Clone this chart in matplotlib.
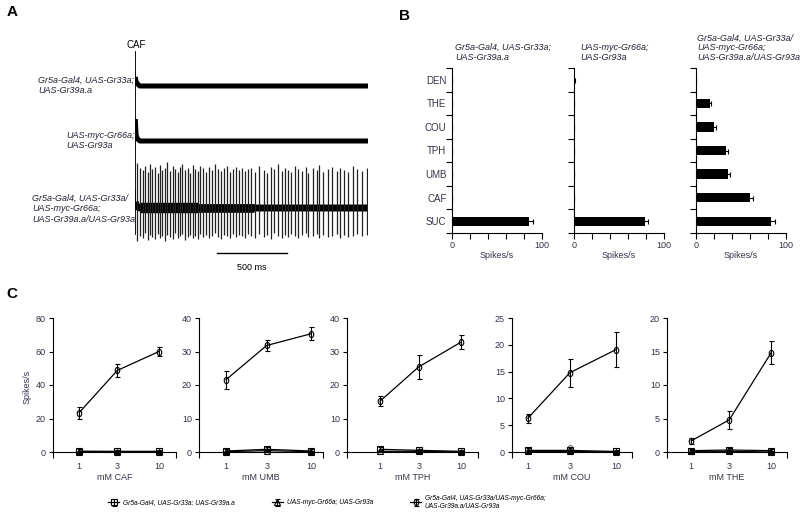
import numpy as np
import matplotlib.pyplot as plt
from matplotlib.markers import MarkerStyle
from matplotlib.transforms import Affine2D
from matplotlib.ticker import FixedLocator, NullFormatter

plt.rcParams['font.family'] = ['Liberation Sans', 'DejaVu Sans']

W, H = 800, 522


def box(l, t, r, b):
    # pixel box -> figure fraction
    return [l / W, 1 - b / H, (r - l) / W, (b - t) / H]


# ---------------- data ----------------
genotypes = ["Gr5a-Gal4, UAS-Gr33a;\nUAS-Gr39a.a",
             "UAS-myc-Gr66a;\nUAS-Gr93a",
             "Gr5a-Gal4, UAS-Gr33a/\nUAS-myc-Gr66a;\nUAS-Gr39a.a/UAS-Gr93a"]

# panel A traces (ms, arbitrary amplitude)
trace_len = 1665
art_up = [34, 47, 59]
art_down = [8, 8, 26]
decay_t = [2, 8, 18, 35]
decay_y = [[9, 4, 2, 0], [22, 6, 2, 0], [6, 3, 1, 0]]
spike_t = [14, 36, 54, 71, 93, 107, 125, 143, 161, 179, 196, 214, 229, 250,
           268, 286, 304, 321, 339, 357, 379, 393, 414, 432, 450, 468, 486,
           507, 528, 550, 571, 593, 614, 636, 657, 679, 700, 721, 743, 764,
           786, 807, 829, 857, 886, 921, 943, 971, 993, 1021, 1050, 1071,
           1093, 1114, 1143, 1164, 1193, 1221, 1236, 1271, 1300, 1314, 1343,
           1379, 1407, 1443, 1464, 1493, 1521, 1557, 1586, 1621, 1657]
spike_up = [45, 40, 38, 42, 36, 44, 39, 41, 35, 43, 38, 40, 46, 37, 42, 39,
            36, 41, 44, 38, 40, 35, 43, 39, 37, 42, 40, 36, 41, 38, 44, 39,
            37, 40, 42, 36, 39, 41, 38, 40, 37, 39,
            40, 36, 42, 38, 35, 41, 39, 44, 37, 40, 38, 36, 42, 39, 37, 41,
            35, 40, 38, 43, 36, 39, 41, 37, 40, 38, 36, 42, 39, 37, 40]
spike_down = [33, 28, 30, 25, 32, 27, 29, 31, 26, 30, 28, 33, 27, 29, 31, 25,
              30, 28, 26, 32, 29, 27, 30, 28, 31, 26, 29, 27, 30, 28, 25, 29,
              31, 27, 28, 30, 26, 29, 27, 28, 30, 26,
              28, 30, 26, 29, 27, 31, 25, 28, 30, 27, 29, 26, 28, 30, 27, 25,
              29, 28, 26, 30, 27, 29, 28, 26, 30, 27, 29, 28, 26, 28, 27]
scale_ms = 500

# panel B
bar_cats = ['SUC', 'CAF', 'UMB', 'TPH', 'COU', 'THE', 'DEN']
bar_vals = [[86, 0, 0, 0, 0, 0, 0],
            [79, 0, 0.5, 0.5, 0, 0, 1],
            [83, 60, 36, 33, 19.5, 15, 0]]
bar_errs = [[4, 0, 0, 0, 0, 0, 0],
            [3, 0, 0, 0, 0, 0, 0.6],
            [5, 3, 2, 2, 3, 2, 0]]

# panel C
conc = [1, 3, 10]
compounds = ['CAF', 'UMB', 'TPH', 'COU', 'THE']
sq_vals = [[0.5, 0.4, 0.4], [0.3, 0.8, 0.3], [0.8, 0.5, 0.2], [0.3, 0.3, 0.1], [0.2, 0.3, 0.2]]
sq_errs = [[1.2, 1.0, 1.0], [0.6, 0.6, 0.6], [0.6, 0.5, 0.5], [0.4, 0.4, 0.3], [0.3, 0.3, 0.3]]
tri_vals = [[0.2, 0.1, 0.1], [0.1, 0.4, 0.1], [0.2, 0.2, 0.0], [0.1, 0.1, 0.0], [0.1, 0.1, 0.0]]
tri_errs = [[0.5, 0.4, 0.4], [0.3, 0.4, 0.3], [0.3, 0.3, 0.2], [0.2, 0.2, 0.2], [0.2, 0.2, 0.2]]
circ_vals = [[23.5, 48.7, 60], [21.6, 31.8, 35.3], [15.2, 25.4, 32.8], [6.3, 14.8, 19.1], [1.65, 4.8, 14.8]]
circ_errs = [[3.5, 4, 2.5], [2.7, 1.6, 2], [1.5, 3.5, 2], [0.8, 2.6, 3.3], [0.4, 1.3, 1.7]]
cou_low_circ = 0.7

TXT = '#33334a'

fig = plt.figure(figsize=(8, 5.22), dpi=100)

# ---------------- panel A ----------------
fig.text(12 / W, 1 - 12 / H, 'A', fontsize=11, fontweight='bold', ha='center', va='center')
ax = fig.add_axes(box(135, 40, 368, 275))
ax.set_xlim(0, trace_len)
ax.set_ylim(-275, -40)
ax.axis('off')
bases = [-86, -141, -208]
band = [3.6, 3.6, 5.0]
for i, b in enumerate(bases):
    ax.plot([0, 0], [b - art_down[i], b + art_up[i]], color='k', lw=1.3)
    ax.plot([0] + decay_t, [b + art_up[i] * 0.3] + [b + v for v in decay_y[i]], color='k', lw=1.2)
    ax.plot(decay_t + [trace_len], [b + v for v in decay_y[i]] + [b], color='k',
            lw=band[i], solid_capstyle='butt')
# busier start of the spiking trace
ax.plot([35, 450], [bases[2], bases[2]], color='k', lw=7.5, solid_capstyle='butt')
ax.plot([450, 850], [bases[2], bases[2]], color='k', lw=6.2, solid_capstyle='butt')
ax.vlines(spike_t, [bases[2] - d for d in spike_down], [bases[2] + u for u in spike_up],
          color='#222222', lw=0.9)
ax.plot([586, 586 + scale_ms], [-253, -253], color='k', lw=1)
ax.text(586 + scale_ms / 2, -268, f'{scale_ms} ms', ha='center', va='center', fontsize=6.5)
fig.text(136 / W, 1 - 45 / H, 'CAF', ha='center', va='center', fontsize=7)
lab_pos = [(38, 76), (66, 131), (32, 194)]
for (x, y), g in zip(lab_pos, genotypes):
    fig.text(x / W, 1 - y / H, g, ha='left', va='top', fontsize=6.5, style='italic',
             linespacing=1.2, color='#222233')

# ---------------- panel B ----------------
fig.text(404 / W, 1 - 16 / H, 'B', fontsize=11, fontweight='bold', ha='center', va='center')
b_left = [452, 574, 696]
title_x = [455, 580, 697]
ypos = np.arange(len(bar_cats))
for i in range(3):
    ax = fig.add_axes(box(b_left[i], 68, b_left[i] + 90, 233))
    ax.barh(ypos, bar_vals[i], height=0.4, color='k', xerr=bar_errs[i],
            error_kw=dict(ecolor='k', elinewidth=0.8, capsize=1.8, capthick=0.8))
    ax.set_xlim(0, 100)
    ax.set_ylim(-0.5, 6.5)
    for s in ['top', 'right']:
        ax.spines[s].set_visible(False)
    for s in ['left', 'bottom']:
        ax.spines[s].set_linewidth(0.8)
    ax.set_yticks(np.arange(-0.5, 7, 1))
    ax.set_yticklabels([])
    ax.yaxis.set_minor_locator(FixedLocator(ypos))
    if i == 0:
        ax.yaxis.set_minor_formatter(plt.FixedFormatter(bar_cats))
    else:
        ax.yaxis.set_minor_formatter(NullFormatter())
    ax.tick_params(axis='y', which='major', length=4, width=0.8, color='k')
    ax.tick_params(axis='y', which='minor', length=0, labelsize=7, labelcolor=TXT, pad=4)
    ax.set_xticks([0, 100])
    ax.xaxis.set_minor_locator(FixedLocator([20, 40, 60, 80]))
    ax.tick_params(axis='x', which='both', length=4, width=0.8, labelsize=6.5,
                   labelcolor=TXT, color='k', pad=1.5)
    ax.set_xlabel('Spikes/s', fontsize=6.5, color=TXT, labelpad=1)
    fig.text(title_x[i] / W, 1 - 62 / H, genotypes[i], ha='left', va='bottom',
             fontsize=6.5, style='italic', linespacing=1.1, color='#222233')

# ---------------- panel C ----------------
fig.text(12 / W, 1 - 294 / H, 'C', fontsize=11, fontweight='bold', ha='center', va='center')
c_left = [53, 199, 347, 512, 667]
c_right = [176, 323, 478, 632, 787]
c_xlim = [(0.47, 16.3), (0.48, 13.8), (0.39, 16.2), (0.66, 15.2), (0.5, 15.8)]
c_ymax = [80, 40, 40, 25, 20]
c_step = [20, 10, 10, 5, 5]
oval = MarkerStyle('o', fillstyle='none', transform=Affine2D().scale(0.72, 1.0))
ekw = dict(color='k', lw=0.9, elinewidth=0.8, capsize=1.8, capthick=0.8, markersize=4.5,
           mec='k', mew=0.8)
handles = []
for i, comp in enumerate(compounds):
    ax = fig.add_axes(box(c_left[i], 318, c_right[i], 452))
    ax.set_xscale('log')
    h1 = ax.errorbar(conc, sq_vals[i], yerr=sq_errs[i], marker='s', mfc='none', **ekw)
    h2 = ax.errorbar(conc, tri_vals[i], yerr=tri_errs[i], marker='^', mfc='none', **ekw)
    h3 = ax.errorbar(conc, circ_vals[i], yerr=circ_errs[i], marker=oval, **ekw)
    if comp == 'COU':
        ax.plot([3], [cou_low_circ], marker=oval, color='#777777', markersize=4.5, mew=0.8)
    if i == 0:
        handles = [h1, h2, h3]
    ax.set_xlim(*c_xlim[i])
    ax.set_ylim(0, c_ymax[i])
    for s in ['top', 'right']:
        ax.spines[s].set_visible(False)
    for s in ['left', 'bottom']:
        ax.spines[s].set_linewidth(0.8)
    ax.set_yticks(np.arange(0, c_ymax[i] + 1, c_step[i]))
    ax.tick_params(axis='y', length=3, width=0.8, labelsize=6.5, labelcolor=TXT, pad=2)
    ax.xaxis.set_major_locator(FixedLocator(conc))
    ax.xaxis.set_major_formatter(plt.FixedFormatter([str(c) for c in conc]))
    ax.xaxis.set_minor_locator(FixedLocator(list(c_xlim[i])))
    ax.xaxis.set_minor_formatter(NullFormatter())
    ax.tick_params(axis='x', which='major', length=0, labelsize=6.5, labelcolor=TXT, pad=7)
    ax.tick_params(axis='x', which='minor', length=4, width=0.8)
    ax.set_xlabel(f'mM {comp}', fontsize=6.5, color=TXT, labelpad=2)
    for ln in ax.lines:
        ln.set_clip_on(False)
fig.text(27 / W, 1 - 387 / H, 'Spikes/s', rotation=90, ha='center', va='center',
         fontsize=6.5, color=TXT)

leg_labels = ["Gr5a-Gal4, UAS-Gr33a; UAS-Gr39a.a", "UAS-myc-Gr66a; UAS-Gr93a",
              "Gr5a-Gal4, UAS-Gr33a/UAS-myc-Gr66a;\nUAS-Gr39a.a/UAS-Gr93a"]
fig.legend(handles, leg_labels, ncol=3, loc='center', bbox_to_anchor=(327 / W, 1 - 502 / H),
           frameon=False, prop={'style': 'italic', 'size': 4.8},
           handlelength=1.6, handletextpad=0.6, columnspacing=5.6)

fig.savefig('out.png', dpi=100)
